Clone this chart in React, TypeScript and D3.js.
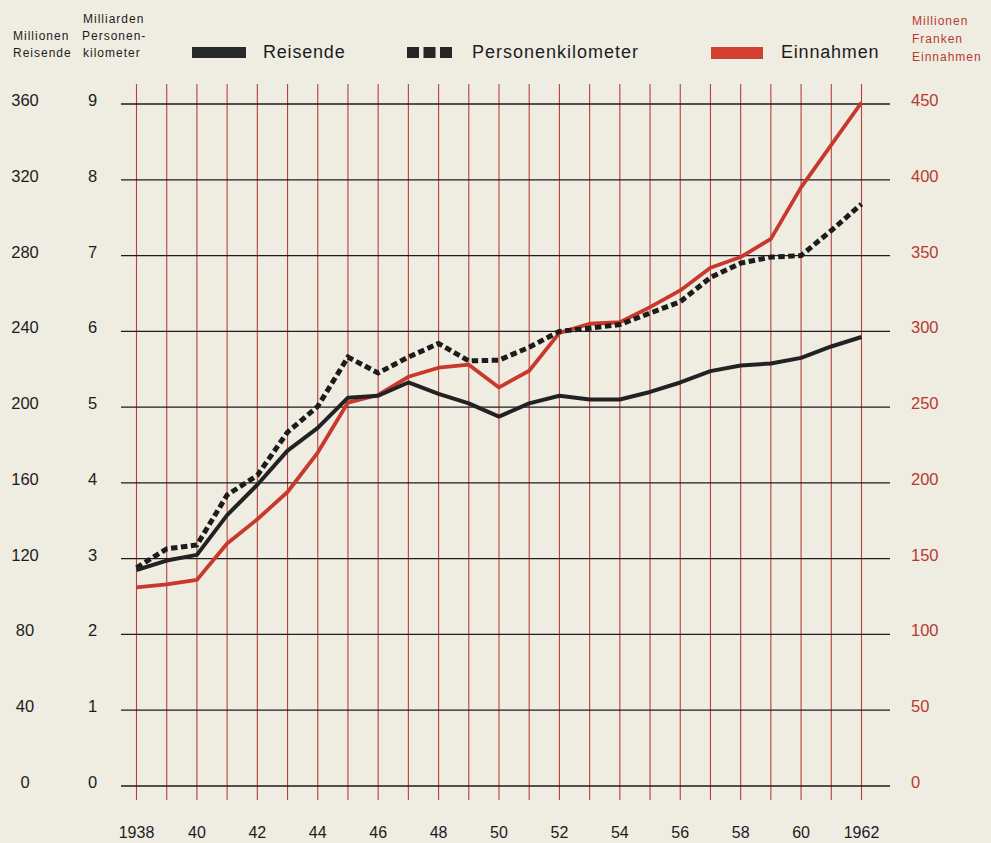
import React from 'react';
import * as d3 from 'd3';

// Jahre 1938-1962
const years = d3.range(1938, 1963);

// Millionen Reisende
const reisende = [114, 119, 122, 143, 159, 177, 189, 205, 206, 213, 207, 202, 195, 202, 206, 204, 204, 208, 213, 219, 222, 223, 226, 232, 237];

// Milliarden Personenkilometer
const personenkm = [2.88, 3.13, 3.18, 3.84, 4.1, 4.67, 5.01, 5.66, 5.45, 5.66, 5.84, 5.61, 5.62, 5.79, 6.0, 6.04, 6.09, 6.24, 6.39, 6.71, 6.9, 6.98, 7.0, 7.33, 7.68];

// Millionen Franken Einnahmen
const einnahmen = [131, 133, 136, 160, 176, 194, 220, 253, 258, 270, 276, 278, 263, 274, 299, 305, 306, 316, 327, 342, 349, 361, 395, 423, 451];

const reisendeTicks = [0, 40, 80, 120, 160, 200, 240, 280, 320, 360];
const pkmTicks = [0, 1, 2, 3, 4, 5, 6, 7, 8, 9];
const einnahmenTicks = [0, 50, 100, 150, 200, 250, 300, 350, 400, 450];
const yearLabels = ['1938', '40', '42', '44', '46', '48', '50', '52', '54', '56', '58', '60', '1962'];

const W = 991;
const H = 843;
const BG = '#efece2';
const INK = '#1c1c1c';
const RED = '#c8382b';
const GRID_RED = '#b5403c';
const FONT = '"Liberation Sans", Arial, Helvetica, sans-serif';

export default function App() {
    const x = d3.scaleLinear().domain([1938, 1962]).range([136.5, 861.5]);
    const yPkm = d3.scaleLinear().domain([0, 9]).range([786, 104]);
    const yReis = d3.scaleLinear().domain([0, 360]).range([786, 104]);
    const yEin = d3.scaleLinear().domain([0, 450]).range([786, 104]);

    const lineReis = d3.line<number>().x((_, i) => x(years[i])).y(d => yReis(d));
    const linePkm = d3.line<number>().x((_, i) => x(years[i])).y(d => yPkm(d));
    const lineEin = d3.line<number>().x((_, i) => x(years[i])).y(d => yEin(d));

    return (
        <svg
            width={W}
            height={H}
            style={{ position: 'absolute', left: 0, top: 0, display: 'block', background: BG }}
            fontFamily={FONT}
        >
            <rect x={0} y={0} width={W} height={H} fill={BG} />

            {/* vertical red year lines */}
            {years.map(yr => (
                <line key={yr} x1={x(yr)} x2={x(yr)} y1={84} y2={800} stroke={GRID_RED} strokeWidth={1.1} />
            ))}

            {/* horizontal grid lines */}
            {pkmTicks.map(t => (
                <line key={t} x1={121} x2={890} y1={yPkm(t)} y2={yPkm(t)} stroke={INK} strokeWidth={1.3} />
            ))}

            {/* Einnahmen */}
            <path d={lineEin(einnahmen) || ''} fill="none" stroke={RED} strokeWidth={3.8} strokeLinejoin="round" />
            {/* Personenkilometer */}
            <path d={linePkm(personenkm) || ''} fill="none" stroke={INK} strokeWidth={5} strokeDasharray="6.5 3.5" strokeLinejoin="miter" />
            {/* Reisende */}
            <path d={lineReis(reisende) || ''} fill="none" stroke="#222" strokeWidth={4} strokeLinejoin="round" />

            {/* left tick labels */}
            {reisendeTicks.map(t => (
                <text key={'r' + t} x={25} y={yReis(t) + 2} textAnchor="middle" fontSize={16.5} fill={INK}>{t}</text>
            ))}
            {pkmTicks.map(t => (
                <text key={'p' + t} x={92.5} y={yPkm(t) + 2} textAnchor="middle" fontSize={16.5} fill={INK}>{t}</text>
            ))}
            {/* right tick labels */}
            {einnahmenTicks.map(t => (
                <text key={'e' + t} x={911} y={yEin(t) + 2} fontSize={16.5} fill="#b73a30">{t}</text>
            ))}

            {/* year labels */}
            {yearLabels.map((lab, i) => (
                <text key={lab} x={x(1938 + i * 2)} y={838} textAnchor="middle" fontSize={16} fill={INK}>{lab}</text>
            ))}

            {/* axis headers */}
            <g fontSize={12} fill={INK} letterSpacing={1}>
                <text x={13} y={40}>Millionen</text>
                <text x={13} y={57}>Reisende</text>
                <text x={83} y={23}>Milliarden</text>
                <text x={82} y={40}>Personen-</text>
                <text x={83} y={57}>kilometer</text>
            </g>
            <g fontSize={12} fill="#b73a30" letterSpacing={1}>
                <text x={912} y={25}>Millionen</text>
                <text x={912} y={43}>Franken</text>
                <text x={912} y={61}>Einnahmen</text>
            </g>

            {/* legend */}
            <rect x={192} y={47} width={54} height={11} fill="#262a2a" />
            <text x={263} y={58} fontSize={18} letterSpacing={0.8} fill={INK}>Reisende</text>
            {[0, 1, 2].map(i => (
                <rect key={i} x={407 + i * 16.5} y={47} width={12} height={11} fill="#262626" />
            ))}
            <text x={472} y={58} fontSize={18} letterSpacing={1} fill={INK}>Personenkilometer</text>
            <rect x={711} y={47} width={52} height={12} fill="#d4402f" />
            <text x={781} y={58} fontSize={18} letterSpacing={0.8} fill={INK}>Einnahmen</text>
        </svg>
    );
}
